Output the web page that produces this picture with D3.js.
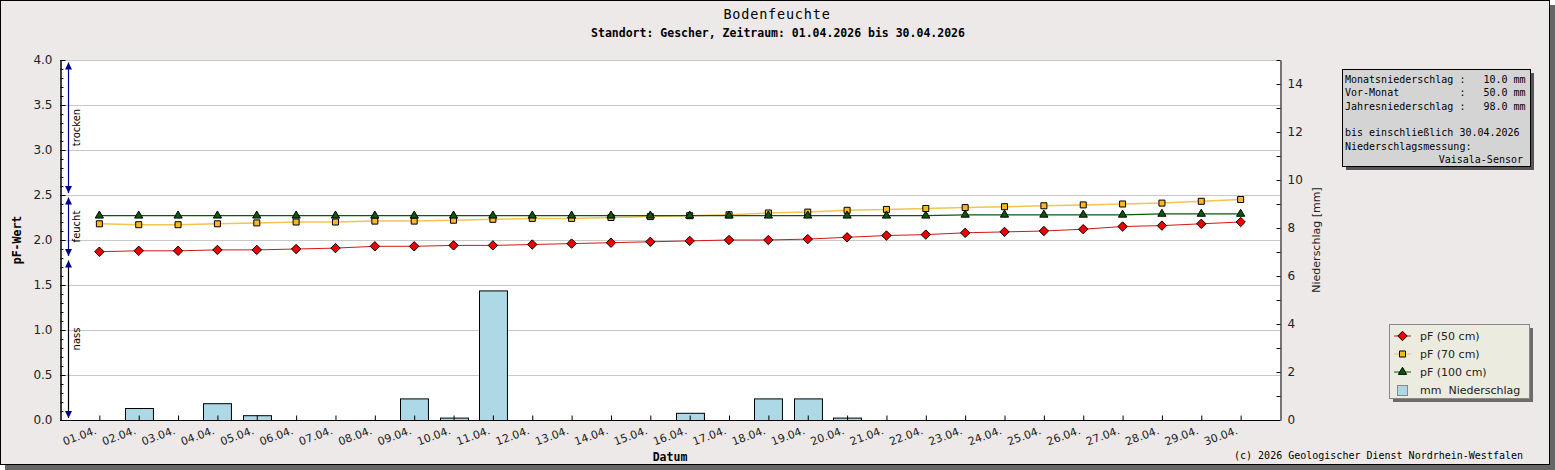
<!DOCTYPE html>
<html><head><meta charset="utf-8">
<script src="https://cdn.jsdelivr.net/npm/d3@7"></script>
<style>body{margin:0;background:#fff}svg{display:block}</style>
</head><body>
<script>
// ---------- data ----------
const days = d3.range(1, 31).map(d => String(d).padStart(2, '0') + '.04.');
const pf50 = [1.87,1.88,1.88,1.89,1.89,1.90,1.91,1.93,1.93,1.94,1.94,1.95,1.96,1.97,1.98,1.99,2.00,2.00,2.01,2.03,2.05,2.06,2.08,2.09,2.10,2.12,2.15,2.16,2.18,2.20];
const pf70 = [2.18,2.17,2.17,2.18,2.19,2.20,2.20,2.21,2.21,2.22,2.23,2.24,2.24,2.25,2.26,2.27,2.28,2.30,2.31,2.33,2.34,2.35,2.36,2.37,2.38,2.39,2.40,2.41,2.43,2.45];
const pf100 = [2.27,2.27,2.27,2.27,2.27,2.27,2.27,2.27,2.27,2.27,2.27,2.27,2.27,2.27,2.27,2.27,2.27,2.27,2.27,2.27,2.27,2.27,2.28,2.28,2.28,2.28,2.28,2.29,2.29,2.29];
const rain = [0,0.5,0,0.7,0.2,0,0,0,0.9,0.1,5.4,0,0,0,0,0.3,0,0.9,0.9,0.1,0,0,0,0,0,0,0,0,0,0];
const pfTicks = [0,0.5,1.0,1.5,2.0,2.5,3.0,3.5,4.0];
const rainTicks = [0,2,4,6,8,10,12,14];
const zoneNames = ['trocken','feucht','nass'];
const zoneBounds = [[4.0,2.5],[2.5,1.8],[1.8,0]];
const legendLabels = ['pF (50 cm)','pF (70 cm)','pF (100 cm)','mm  Niederschlag'];
const infoLines = ['Monatsniederschlag :   10.0 mm','Vor-Monat          :   50.0 mm','Jahresniederschlag :   98.0 mm','','bis einschließlich 30.04.2026','Niederschlagsmessung:'];
const infoRight = 'Vaisala-Sensor';
const title = 'Bodenfeuchte';
const subtitle = 'Standort: Gescher, Zeitraum: 01.04.2026 bis 30.04.2026';
const copyright = '(c) 2026 Geologischer Dienst Nordrhein-Westfalen';

// ---------- layout ----------
const W = 1555, H = 470;
const L = 60, R = 1280, T = 60, B = 420;
const MONO = '"DejaVu Sans Mono", monospace';
const SANS = '"DejaVu Sans", sans-serif';

const svg = d3.select('body').append('svg').attr('width', W).attr('height', H);

// frame with shadow
svg.append('rect').attr('x',5).attr('y',5).attr('width',1550).attr('height',465).attr('fill','#666');
svg.append('rect').attr('x',0.5).attr('y',0.5).attr('width',1549).attr('height',464)
  .attr('fill','#ece9e8').attr('stroke','#000');

// titles
svg.append('text').attr('x',777).attr('y',19).attr('text-anchor','middle')
  .style('font-family',MONO).style('font-size','13.5px').style('letter-spacing','0.8px').attr('fill','#000').text(title);
svg.append('text').attr('x',778).attr('y',37).attr('text-anchor','middle')
  .style('font-family',MONO).style('font-size','11.5px').style('font-weight','bold').attr('fill','#000').text(subtitle);

// scales
const x = d3.scaleLinear().domain([0,31]).range([L,R]);
const y = d3.scaleLinear().domain([0,4]).range([B,T]);
const yR = d3.scaleLinear().domain([0,15]).range([B,T]);

// plot bg
svg.append('rect').attr('x',L).attr('y',T).attr('width',R-L).attr('height',B-T).attr('fill','#fff');

// grid
svg.append('g').selectAll('line').data(pfTicks).join('line')
  .attr('x1',L).attr('x2',R).attr('y1',d=>y(d)+0.5).attr('y2',d=>y(d)+0.5)
  .attr('stroke','#c8c8c8').attr('stroke-width',1);

// bars
const bw = (x(1)-x(0))*0.71;
svg.append('g').selectAll('rect').data(rain.map((v,i)=>({v,i}))).join('rect')
  .filter(d=>d.v>0)
  .attr('x',d=>Math.round(x(d.i+1)-bw/2)+0.5).attr('y',d=>yR(d.v)+0.5)
  .attr('width',bw).attr('height',d=>B-yR(d.v))
  .attr('fill','#add8e6').attr('stroke','#000').attr('stroke-width',1);

// axes
function styleAxis(g, size, fam){
  g.selectAll('text').style('font-family',fam||SANS).style('font-size',size||'12px').attr('fill','#222');
  g.selectAll('line').attr('stroke','#000');
  g.select('.domain').attr('stroke','#000');
}
const gl = svg.append('g').attr('transform',`translate(${L+0.5},0)`)
  .call(d3.axisLeft(y).tickValues(pfTicks).tickSizeInner(-5).tickSizeOuter(0).tickPadding(8).tickFormat(d3.format('.1f')));
styleAxis(gl);
const glm = svg.append('g').attr('transform',`translate(${L+0.5},0)`)
  .call(d3.axisLeft(y).tickValues(d3.range(0,41).map(i=>i/10)).tickSizeInner(-3).tickSizeOuter(0).tickFormat(''));
styleAxis(glm);

const gr = svg.append('g').attr('transform',`translate(${R+0.5},0)`)
  .call(d3.axisRight(yR).tickValues(d3.range(0,16)).tickSizeInner(-4).tickSizeOuter(0).tickPadding(7)
    .tickFormat(d => rainTicks.includes(d) ? d : ''));
styleAxis(gr);

const gb = svg.append('g').attr('transform',`translate(0,${B+0.5})`)
  .call(d3.axisBottom(x).tickValues(d3.range(1,31)).tickSizeInner(-5).tickSizeOuter(0).tickFormat(d=>days[d-1]));
styleAxis(gb,'11px');
gb.select('.domain').attr('d',`M${L},0H${R}`);
gb.selectAll('text').attr('y',0).attr('dy',0).attr('text-anchor','end')
  .attr('transform','translate(-2.5,13) rotate(-20)');

// axis titles
svg.append('text').attr('transform',`translate(21,${(T+B)/2}) rotate(-90)`).attr('text-anchor','middle')
  .style('font-family',MONO).style('font-size','11.5px').style('font-weight','bold').text('pF-Wert');
svg.append('text').attr('transform',`translate(1320,${(T+B)/2}) rotate(-90)`).attr('text-anchor','middle')
  .style('font-family',SANS).style('font-size','11px').attr('fill','#222').text('Niederschlag [mm]');
svg.append('text').attr('x',(L+R)/2).attr('y',461).attr('text-anchor','middle')
  .style('font-family',MONO).style('font-size','11.5px').style('font-weight','bold').text('Datum');

// zone arrows
const ax = 68.5;
const navy = '#00008b';
function arrowHead(g, xx, yy, dir, col){
  g.append('path').attr('d',`M${xx},${yy} L${xx-3.5},${yy-dir*7} L${xx+3.5},${yy-dir*7} Z`).attr('fill',col);
}
const zg = svg.append('g');
zoneNames.forEach((name,i)=>{
  const [a,b] = zoneBounds[i];
  const y1 = y(a)+2.5, y2 = y(b)-2;
  zg.append('line').attr('x1',ax).attr('x2',ax).attr('y1',y1).attr('y2',y2)
    .attr('stroke', name==='nass' ? '#000' : navy).attr('stroke-width',1.2);
  arrowHead(zg, ax, y1, -1, navy);
  arrowHead(zg, ax, y2, 1, navy);
  zg.append('text').attr('transform',`translate(80,${(y(a)+y(b))/2}) rotate(-90)`).attr('text-anchor','middle')
    .style('font-family',SANS).style('font-size','10px').attr('fill','#000').text(name);
});

// lines + markers
const series = [
  {vals:pf50, line:'#d01818', fill:'#ee0000', sym:d3.symbolDiamond2, size:56, sw:1},
  {vals:pf70, line:'#f2c450', fill:'#f8b82a', sym:d3.symbolSquare2, size:46, sw:1.5},
  {vals:pf100, line:'#0a5a0a', fill:'#0b5a0b', sym:d3.symbolTriangle2, size:48, sw:1.2}
];
const lineGen = d3.line().x((d,i)=>x(i+1)).y(d=>y(d));
series.forEach(s=>{
  svg.append('path').attr('d',lineGen(s.vals)).attr('fill','none').attr('stroke',s.line).attr('stroke-width',s.sw);
});
series.forEach(s=>{
  svg.append('g').selectAll('path').data(s.vals).join('path')
    .attr('transform',(d,i)=>`translate(${x(i+1)},${y(d)})`)
    .attr('d',d3.symbol(s.sym,s.size)).attr('fill',s.fill).attr('stroke','#000').attr('stroke-width',1);
});

// info box
svg.append('rect').attr('x',1346).attr('y',73).attr('width',188).attr('height',97).attr('fill','#555');
svg.append('rect').attr('x',1342.5).attr('y',69.5).attr('width',188).attr('height',97).attr('fill','#d4d4d4').attr('stroke','#000');
infoLines.forEach((t,i)=>{
  svg.append('text').attr('x',1345).attr('y',83+i*13.3).style('white-space','pre')
    .style('font-family',MONO).style('font-size','10px').attr('fill','#000').text(t);
});
svg.append('text').attr('x',1523).attr('y',83+6*13.3).attr('text-anchor','end')
  .style('font-family',MONO).style('font-size','10px').attr('fill','#000').text(infoRight);

// legend
svg.append('rect').attr('x',1393).attr('y',328).attr('width',140).attr('height',74).attr('fill','#6b6b6b');
svg.append('rect').attr('x',1389.5).attr('y',324.5).attr('width',140).attr('height',74).attr('fill','#ecebe0').attr('stroke','#888');
const ly = [336,354,372,390];
series.forEach((s,i)=>{
  svg.append('line').attr('x1',1394).attr('x2',1411).attr('y1',ly[i]).attr('y2',ly[i]).attr('stroke',s.line).attr('stroke-width',1);
  svg.append('path').attr('transform',`translate(1402.5,${ly[i]})`).attr('d',d3.symbol(s.sym,s.size))
    .attr('fill',s.fill).attr('stroke','#000');
});
svg.append('rect').attr('x',1397.5).attr('y',385.5).attr('width',10).attr('height',10).attr('fill','#add8e6').attr('stroke','#888');
legendLabels.forEach((t,i)=>{
  svg.append('text').attr('x',1420).attr('y',ly[i]+4).style('white-space','pre')
    .style('font-family',SANS).style('font-size','11px').attr('fill','#222').text(t);
});

// copyright
svg.append('text').attr('x',1523).attr('y',459).attr('text-anchor','end')
  .style('font-family',MONO).style('font-size','10px').attr('fill','#000').text(copyright);
</script>
</body></html>
